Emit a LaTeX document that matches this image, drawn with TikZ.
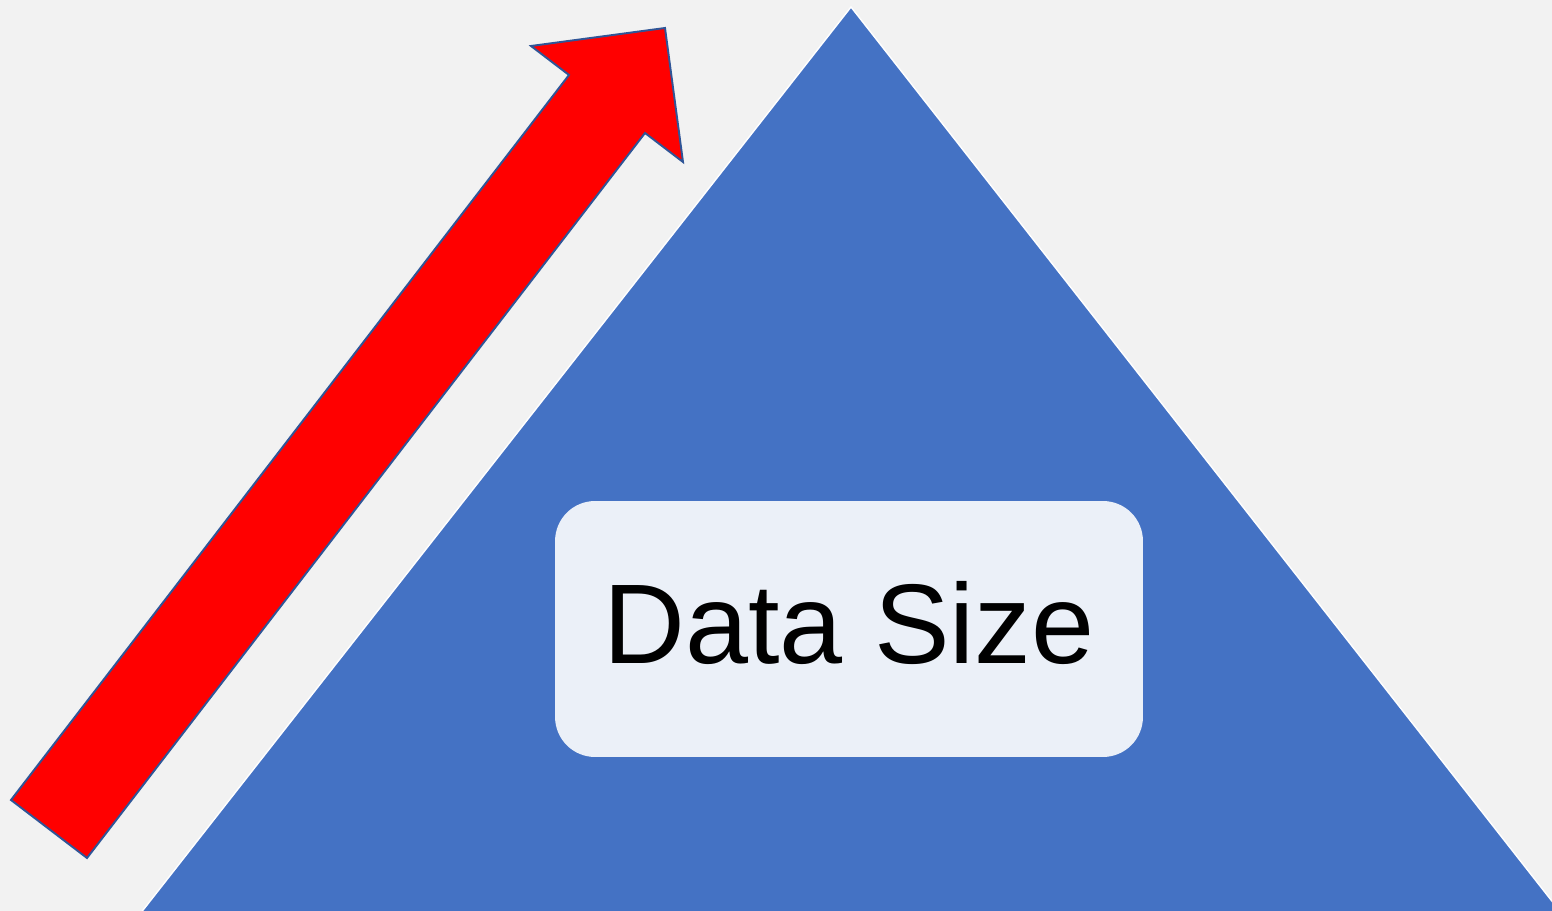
\documentclass[tikz,border=0pt]{standalone}
\usepackage{fontspec}
\setmainfont{Liberation Sans}
\usetikzlibrary{positioning}
\definecolor{bgGray}{HTML}{F2F2F2}
\definecolor{pyramidBlue}{HTML}{4472C4}
\definecolor{boxFill}{HTML}{EBF0F8}
\definecolor{arrowEdge}{HTML}{2F5597}
\begin{document}
\begin{tikzpicture}[
  x=0.02cm, y=-0.02cm,
  pyramid/.style={fill=pyramidBlue, draw=white, line width=0.8pt},
  growarrow/.style={fill=red, draw=arrowEdge, line width=1.1pt, line join=miter},
  sizebox/.style={rectangle, fill=boxFill, rounded corners=0.8cm,
    minimum width=11.76cm, minimum height=5.12cm, inner sep=0pt,
    font=\fontsize{64.5}{70}\selectfont}
]
\fill[bgGray] (0,0) rectangle (1552,911);
\useasboundingbox (0,0) rectangle (1552,911);
\begin{scope}
  \clip (0,0) rectangle (1552,911);
  % data pyramid
  \draw[pyramid] (851,7) -- (1562,914) -- (140,914) -- cycle;
  % growth arrow
  \draw[growarrow] (11,800) -- (87,858) -- (645,133) -- (683,162)
    -- (665,28) -- (531,46) -- (569,75) -- cycle;
\end{scope}

\node[sizebox] (datasize) at (849,629) {\raisebox{0.25cm}{Data Size}};

\end{tikzpicture}
\end{document}
